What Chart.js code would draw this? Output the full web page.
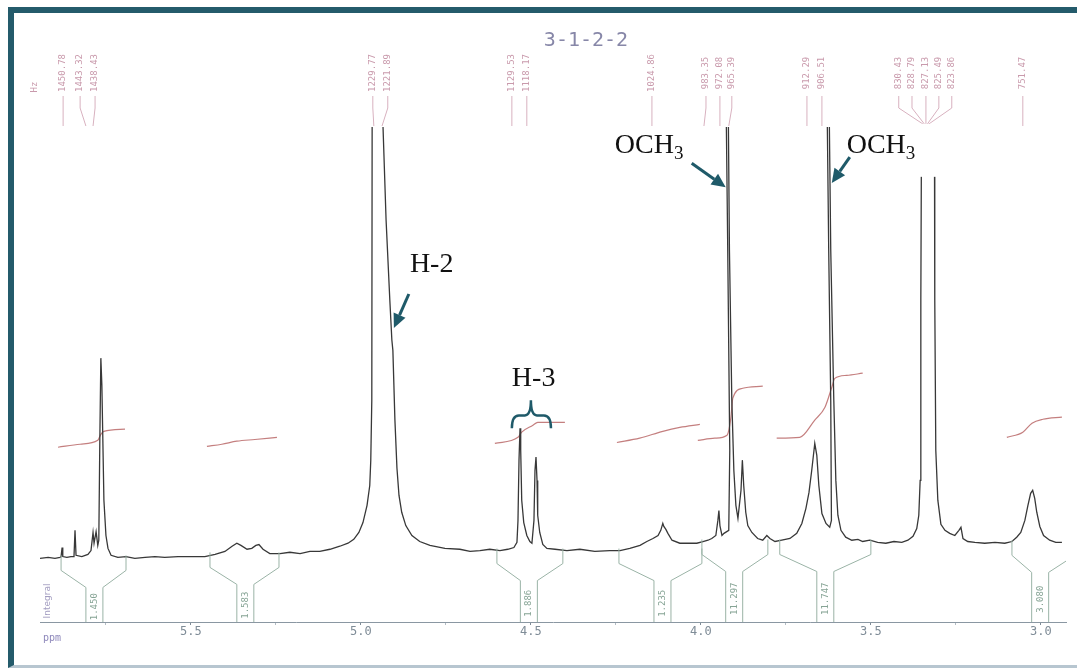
<!DOCTYPE html>
<html lang="en">
<head>
<meta charset="utf-8">
<title>3-1-2-2</title>
<script src="https://cdn.jsdelivr.net/npm/chart.js@4.4.1/dist/chart.umd.min.js"></script>
<style>
    html, body { margin: 0; padding: 0; background: #ffffff; }
    .page { position: relative; width: 1077px; height: 668px; overflow: hidden; background: #ffffff; }
    .frame { position: absolute; left: 8px; top: 7px; right: 0; bottom: 0; border-top: 6px solid #245b6b; border-left: 6px solid #245b6b; border-bottom: 3px solid #b7c6d0; }
    .chart-box { position: absolute; left: 0; top: 0; width: 1077px; height: 668px; }
</style>
</head>
<body>
<div class="page">
    <div class="frame"></div>
    <div class="chart-box"><canvas id="nmrChart"></canvas></div>
</div>
<script>
// 1H NMR printout of sample 3-1-2-2 (250 MHz)
// trace: [shift in ppm, intensity] - baseline ~0, top of the plot is 100
const tracePoints = [
    [5.944, -0.2], [5.920, 0.0], [5.900, -0.2], [5.885, 0.0], [5.882, 0.2], [5.879, 2.3], [5.877, 0.2],
    [5.865, 0.0], [5.853, 0.2], [5.844, 0.2], [5.841, 6.3], [5.838, 0.5], [5.821, 0.2], [5.803, 0.7],
    [5.794, 1.6], [5.788, 5.8], [5.785, 3.3], [5.779, 6.0], [5.774, 2.8], [5.771, 4.0], [5.768, 27.2],
    [5.765, 46.3], [5.762, 40.0], [5.756, 13.3], [5.750, 5.1], [5.744, 2.1], [5.735, 0.5], [5.715, 0.0],
    [5.691, 0.2], [5.665, -0.2], [5.635, 0.0], [5.606, 0.2], [5.577, 0.0], [5.538, 0.2], [5.503, 0.2],
    [5.459, 0.2], [5.429, 0.7], [5.400, 1.4], [5.379, 2.6], [5.365, 3.3], [5.353, 2.8], [5.335, 1.9],
    [5.321, 2.1], [5.309, 2.8], [5.300, 3.0], [5.288, 1.9], [5.268, 0.9], [5.238, 0.9], [5.209, 1.2],
    [5.179, 0.9], [5.150, 1.4], [5.121, 1.4], [5.091, 1.9], [5.062, 2.6], [5.038, 3.3], [5.021, 4.2],
    [5.006, 5.8], [4.994, 8.1], [4.982, 12.1], [4.974, 16.7], [4.971, 22.6], [4.968, 36.5],
    [4.967, 100], [4.951, 150], [4.935, 100],
    [4.926, 78.4], [4.915, 59.8], [4.909, 50.5], [4.906, 48.1], [4.900, 31.9], [4.894, 20.7],
    [4.888, 14.4], [4.880, 10.5], [4.868, 7.4], [4.850, 5.1], [4.827, 3.7], [4.797, 2.8], [4.753, 2.1],
    [4.709, 1.9], [4.679, 1.4], [4.650, 1.6], [4.621, 1.9], [4.591, 1.6], [4.568, 1.9], [4.550, 2.3],
    [4.541, 3.5], [4.538, 8.6], [4.535, 22.6], [4.532, 30.0], [4.530, 24.9], [4.527, 13.3], [4.521, 8.1],
    [4.512, 5.1], [4.503, 3.7], [4.497, 3.3], [4.491, 8.6], [4.488, 20.2], [4.485, 23.3], [4.482, 17.9],
    [4.480, 9.8], [4.474, 5.8], [4.465, 3.0], [4.453, 2.1], [4.429, 1.9], [4.394, 1.6], [4.356, 1.9],
    [4.312, 1.4], [4.268, 1.6], [4.238, 1.6], [4.209, 2.1], [4.179, 2.8], [4.159, 3.7], [4.141, 4.4],
    [4.126, 5.1], [4.118, 6.3], [4.112, 7.9], [4.109, 7.2], [4.103, 6.5], [4.097, 5.6], [4.085, 4.0],
    [4.062, 3.3], [4.033, 3.3], [4.012, 3.3], [3.994, 3.7], [3.979, 4.0], [3.968, 4.4], [3.956, 5.1],
    [3.950, 8.6], [3.947, 10.9], [3.944, 7.4], [3.938, 5.1], [3.932, 5.6], [3.918, 6.3], [3.915, 24.9],
    [3.921, 71.4], [3.925, 100], [3.922, 150], [3.919, 100], [3.916, 71.4], [3.909, 36.5], [3.903, 20.2],
    [3.897, 12.1], [3.891, 9.1], [3.882, 15.6], [3.878, 22.6], [3.874, 16.7], [3.868, 10.5], [3.862, 7.4],
    [3.850, 5.8], [3.833, 4.4], [3.818, 4.0], [3.806, 5.1], [3.797, 4.4], [3.782, 3.7], [3.762, 4.0],
    [3.738, 4.4], [3.718, 5.6], [3.703, 7.9], [3.691, 11.4], [3.682, 15.1], [3.674, 20.2], [3.665, 26.5],
    [3.659, 23.7], [3.653, 16.7], [3.644, 10.2], [3.632, 7.9], [3.621, 7.0], [3.616, 8.6], [3.618, 36.5],
    [3.624, 71.4], [3.628, 100], [3.625, 150], [3.622, 100], [3.618, 71.4], [3.609, 36.5], [3.603, 17.9],
    [3.597, 9.8], [3.588, 6.3], [3.574, 4.7], [3.556, 4.0], [3.538, 4.2], [3.524, 3.7], [3.503, 4.0],
    [3.480, 3.5], [3.456, 3.3], [3.432, 3.7], [3.409, 3.5], [3.391, 4.0], [3.376, 4.9], [3.365, 6.7],
    [3.359, 9.8], [3.355, 17.9], [3.353, 59.8], [3.351, 100], [3.332, 150], [3.313, 100], [3.312, 59.8],
    [3.309, 24.9], [3.303, 13.3], [3.294, 7.7], [3.282, 6.3], [3.268, 5.6], [3.253, 5.1], [3.241, 6.3],
    [3.235, 7.0], [3.229, 4.4], [3.215, 3.7], [3.194, 3.5], [3.165, 3.3], [3.135, 3.5], [3.106, 3.3],
    [3.085, 3.7], [3.071, 4.7], [3.059, 5.8], [3.047, 8.6], [3.038, 12.1], [3.030, 14.9], [3.024, 15.6],
    [3.018, 13.7], [3.012, 10.5], [3.003, 7.2], [2.992, 5.1], [2.974, 4.0], [2.956, 3.5], [2.938, 3.5]
];

// integral curves (red step lines), one list per region
const integralTraces = [
    [[5.891, 25.6], [5.826, 26.3], [5.774, 27.2], [5.765, 28.6], [5.756, 29.3], [5.694, 29.8]],
    [[5.453, 25.8], [5.409, 26.3], [5.365, 27.0], [5.312, 27.4], [5.247, 27.9]],
    [[4.606, 26.5], [4.538, 27.9], [4.527, 29.1], [4.494, 30.7], [4.480, 31.4], [4.400, 31.4]],
    [[4.247, 26.7], [4.180, 27.7], [4.112, 29.3], [4.062, 30.2], [4.003, 30.9]],
    [[4.009, 27.2], [3.959, 27.7], [3.923, 28.4], [3.912, 32.3], [3.906, 37.0], [3.877, 39.3], [3.818, 39.8]],
    [[3.777, 27.7], [3.709, 27.9], [3.665, 31.9], [3.635, 34.9], [3.615, 39.5], [3.606, 41.6], [3.571, 42.3], [3.524, 42.8]],
    [[3.100, 27.9], [3.053, 29.1], [3.026, 31.2], [2.994, 32.1], [2.938, 32.6]]
];

// integral regions under the trace
const integralFromPpm = [5.882, 5.444, 4.600, 4.241, 3.997, 3.768, 3.085];
const integralToPpm = [5.691, 5.241, 4.406, 3.997, 3.803, 3.500, 2.900];
const integralNeckPpm = [5.784, 5.340, 4.506, 4.113, 3.902, 3.634, 3.002];
const integralValues = ['1.450', '1.583', '1.886', '1.235', '11.297', '11.747', '3.080'];

// peak picking labels (Hz) printed above the trace
const peakLabelHz = ['1450.78', '1443.32', '1438.43', '1229.77', '1221.89', '1129.53', '1118.17', '1024.86',
    '983.35', '972.08', '965.39', '912.29', '906.51', '830.43', '828.79', '827.13', '825.49', '823.86', '751.47'];
const peakLabelPpm = [5.876, 5.826, 5.782, 4.965, 4.921, 4.556, 4.512, 4.144,
    3.985, 3.944, 3.909, 3.688, 3.644, 3.418, 3.379, 3.338, 3.300, 3.262, 3.053];
const peakLinePpm = [5.876, 5.809, 5.788, 4.962, 4.938, 4.556, 4.512, 4.144,
    3.991, 3.944, 3.918, 3.688, 3.644, 3.338, 3.338, 3.338, 3.338, 3.338, 3.053];

// axis ticks
const majorTicks = [5.5, 5.0, 4.5, 4.0, 3.5, 3.0];
const minorTicks = [5.75, 5.25, 4.75, 4.25, 3.75, 3.25];

// assignments written on the figure, anchored in (ppm, intensity)
const assignments = [
    { text: 'H-2', ppm: 4.856, level: 66.3, arrowFrom: [4.859, 61.2], arrowTo: [4.903, 53.3] },
    { text: 'H-3', ppm: 4.556, level: 39.8, brace: [4.556, 4.441, 4.500, 30.0, 33.0, 36.5] },
    { text: 'OCH', sub: '3', ppm: 4.253, level: 94.0, arrowFrom: [4.027, 91.6], arrowTo: [3.927, 86.0] },
    { text: 'OCH', sub: '3', ppm: 3.571, level: 94.0, arrowFrom: [3.562, 93.0], arrowTo: [3.615, 87.0], mask: true }
];

const TEAL = '#1f5a69';

function localBaseline(lo, hi) {
    let min = Infinity;
    tracePoints.forEach(([p, v]) => {
        if (p >= lo && p <= hi && v < min) min = v;
    });
    return min === Infinity ? 0 : min;
}

function drawArrow(ctx, x0, y0, x1, y1, headLen, headWidth) {
    const ang = Math.atan2(y1 - y0, x1 - x0);
    const bx = x1 - headLen * Math.cos(ang);
    const by = y1 - headLen * Math.sin(ang);
    ctx.beginPath();
    ctx.moveTo(x0, y0);
    ctx.lineTo(bx, by);
    ctx.stroke();
    ctx.beginPath();
    ctx.moveTo(x1, y1);
    ctx.lineTo(bx + headWidth / 2 * Math.sin(ang), by - headWidth / 2 * Math.cos(ang));
    ctx.lineTo(bx - headWidth / 2 * Math.sin(ang), by + headWidth / 2 * Math.cos(ang));
    ctx.closePath();
    ctx.fill();
}

function rotatedText(ctx, text, x, y) {
    ctx.save();
    ctx.translate(x, y);
    ctx.rotate(-Math.PI / 2);
    ctx.fillText(text, 0, 0);
    ctx.restore();
}

// everything that the printout adds around the trace
const printoutDecor = {
    id: 'printoutDecor',
    afterDatasetsDraw(chart) {
        const { ctx, chartArea: area, scales: { x, y } } = chart;

        // integral brackets
        ctx.save();
        ctx.beginPath();
        ctx.rect(area.left, area.top, area.right - area.left, area.bottom - area.top + 1);
        ctx.clip();
        ctx.strokeStyle = '#9ab3a6';
        ctx.fillStyle = '#86a495';
        ctx.lineWidth = 1;
        ctx.font = '9px "DejaVu Sans Mono"';
        ctx.textAlign = 'center';
        ctx.textBaseline = 'middle';
        integralFromPpm.forEach((from, i) => {
            const to = integralToPpm[i];
            const base = localBaseline(Math.min(from, to), Math.max(from, to));
            const yTop = y.getPixelForValue(base) - 2;
            const yKnee = yTop + 15;
            const yNeck = yTop + 32;
            const x0 = x.getPixelForValue(from);
            const x1 = x.getPixelForValue(to);
            const xc = x.getPixelForValue(integralNeckPpm[i]);
            ctx.beginPath();
            ctx.moveTo(x0, yTop); ctx.lineTo(x0, yKnee); ctx.lineTo(xc - 8.5, yNeck); ctx.lineTo(xc - 8.5, area.bottom);
            ctx.moveTo(x1, yTop); ctx.lineTo(x1, yKnee); ctx.lineTo(xc + 8.5, yNeck); ctx.lineTo(xc + 8.5, area.bottom);
            ctx.stroke();
            rotatedText(ctx, integralValues[i], xc, (yNeck + area.bottom) / 2 + 2);
        });
        ctx.restore();
    },
    afterDraw(chart) {
        const { ctx, chartArea: area, scales: { x, y } } = chart;

        ctx.save();
        // sample title
        ctx.fillStyle = '#8787a8';
        ctx.font = '20px "DejaVu Sans Mono"';
        ctx.textAlign = 'center';
        ctx.textBaseline = 'middle';
        ctx.fillText('3-1-2-2', 586, 41);

        // peak labels
        ctx.strokeStyle = '#d8b1bf';
        ctx.fillStyle = '#c99aac';
        ctx.lineWidth = 1;
        ctx.font = '9px "DejaVu Sans Mono"';
        rotatedText(ctx, 'Hz', area.left - 5, area.top - 40);
        peakLabelHz.forEach((label, i) => {
            const lx = x.getPixelForValue(peakLabelPpm[i]);
            const tx = x.getPixelForValue(peakLinePpm[i]);
            ctx.beginPath();
            ctx.moveTo(lx, area.top - 31);
            ctx.lineTo(lx, area.top - 19);
            ctx.lineTo(tx, area.top - 1);
            ctx.stroke();
            rotatedText(ctx, label, lx, area.top - 54);
        });

        // axis captions
        ctx.fillStyle = '#a29cc0';
        ctx.font = '9px "DejaVu Sans"';
        rotatedText(ctx, 'Integral', area.left + 8, area.bottom - 21);
        ctx.fillStyle = '#8e88bb';
        ctx.font = '10px "DejaVu Sans Mono"';
        ctx.textAlign = 'left';
        ctx.fillText('ppm', area.left + 3, area.bottom + 16);

        // assignments
        assignments.forEach(a => {
            const ax = x.getPixelForValue(a.ppm);
            const ay = y.getPixelForValue(a.level);
            if (a.mask) {
                ctx.fillStyle = '#ffffff';
                ctx.fillRect(ax - 9, ay - 29, 107, 53);
            }
            ctx.fillStyle = '#111111';
            ctx.textAlign = 'left';
            ctx.textBaseline = 'alphabetic';
            ctx.font = '28px "Liberation Serif"';
            ctx.fillText(a.text, ax, ay);
            if (a.sub) {
                const w = ctx.measureText(a.text).width;
                ctx.font = '19px "Liberation Serif"';
                ctx.fillText(a.sub, ax + w, ay + 6);
            }
            ctx.strokeStyle = TEAL;
            ctx.fillStyle = TEAL;
            ctx.lineWidth = 3;
            if (a.arrowFrom) {
                drawArrow(ctx,
                    x.getPixelForValue(a.arrowFrom[0]), y.getPixelForValue(a.arrowFrom[1]),
                    x.getPixelForValue(a.arrowTo[0]), y.getPixelForValue(a.arrowTo[1]), 14, 13);
            }
            if (a.brace) {
                const [p0, p1, pt, lEnd, lBar, lTip] = a.brace;
                const bx0 = x.getPixelForValue(p0);
                const bx1 = x.getPixelForValue(p1);
                const bxt = x.getPixelForValue(pt);
                const yEnd = y.getPixelForValue(lEnd);
                const yBar = y.getPixelForValue(lBar);
                const yTip = y.getPixelForValue(lTip);
                ctx.lineWidth = 2.5;
                ctx.beginPath();
                ctx.moveTo(bx0, yEnd);
                ctx.quadraticCurveTo(bx0, yBar, bx0 + 7, yBar);
                ctx.lineTo(bxt - 6, yBar);
                ctx.quadraticCurveTo(bxt, yBar, bxt, yTip);
                ctx.quadraticCurveTo(bxt, yBar, bxt + 6, yBar);
                ctx.lineTo(bx1 - 7, yBar);
                ctx.quadraticCurveTo(bx1, yBar, bx1, yEnd);
                ctx.stroke();
            }
        });
        ctx.restore();
    }
};

const ctx = document.getElementById('nmrChart').getContext('2d');
const nmrChart = new Chart(ctx, {
    type: 'line',
    data: {
        datasets: [
            {
                label: 'spectrum',
                data: tracePoints.map(([p, v]) => ({ x: p, y: v })),
                borderColor: '#383838',
                borderWidth: 1.3,
                pointRadius: 0,
                tension: 0,
                fill: false
            },
            ...integralTraces.map((trace, k) => ({
                label: 'integral ' + (k + 1),
                data: trace.map(([p, v]) => ({ x: p, y: v })),
                borderColor: 'rgba(176, 84, 84, 0.75)',
                borderWidth: 1.2,
                pointRadius: 0,
                cubicInterpolationMode: 'monotone',
                fill: false
            }))
        ]
    },
    options: {
        responsive: true,
        maintainAspectRatio: false,
        animation: false,
        layout: {
            padding: { left: 40, right: 11, top: 127, bottom: 28.6 }
        },
        plugins: {
            legend: { display: false },
            tooltip: { enabled: false }
        },
        scales: {
            x: {
                type: 'linear',
                reverse: true,
                min: 2.926,
                max: 5.944,
                bounds: 'data',
                afterBuildTicks: (scale) => {
                    scale.ticks = [...majorTicks, ...minorTicks].sort((a, b) => a - b).map(v => ({ value: v }));
                },
                grid: {
                    drawOnChartArea: false,
                    drawTicks: true,
                    tickLength: 3,
                    tickColor: (c) => (c.tick && majorTicks.includes(c.tick.value) ? '#7f8c97' : '#b3bcc4')
                },
                border: { display: true, color: '#8a97a2', width: 1 },
                ticks: {
                    autoSkip: false,
                    maxRotation: 0,
                    padding: 0,
                    color: '#7f8c97',
                    font: { family: 'DejaVu Sans Mono', size: 12 },
                    callback: (v) => (majorTicks.includes(v) ? v.toFixed(1) : '')
                }
            },
            y: {
                display: false,
                min: -15,
                max: 100
            }
        }
    },
    plugins: [printoutDecor]
});
</script>
</body>
</html>
